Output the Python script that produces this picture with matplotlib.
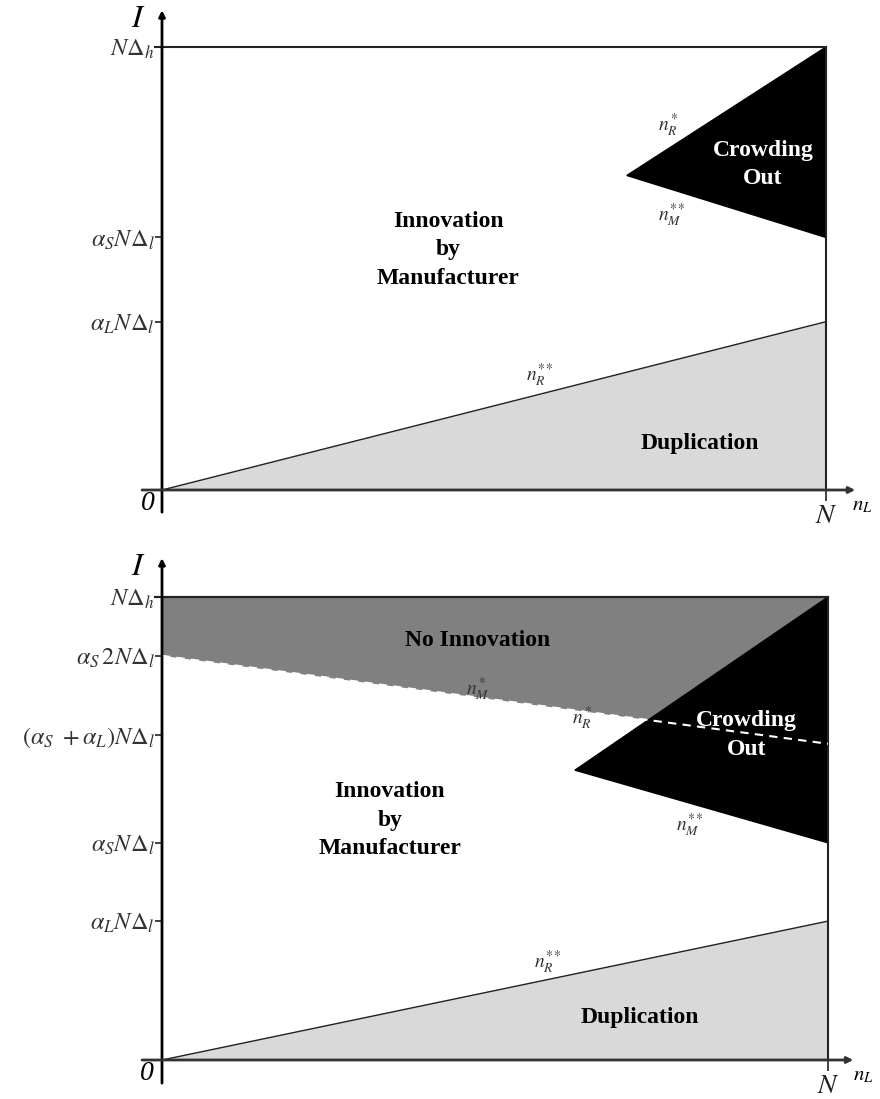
import matplotlib
matplotlib.use("Agg")
import matplotlib.pyplot as plt
import numpy as np

plt.rcParams["mathtext.fontset"] = "stix"
plt.rcParams["font.family"] = ["Liberation Serif", "DejaVu Serif"]

# ------------------------------------------------------------------------------
# data (N = 1, N*Delta_h = 1)
top_ytick_vals = [1.0, 0.57, 0.38]
top_ytick_labels = [r"$N\Delta_h$", r"$\alpha_S N\Delta_l$", r"$\alpha_L N\Delta_l$"]
top_crowd_x = [1.0, 0.70, 1.0]
top_crowd_y = [1.0, 0.71, 0.57]
top_dup_x = [0.0, 1.0, 1.0]
top_dup_y = [0.0, 0.38, 0.0]

bot_ytick_vals = [1.0, 0.873, 0.702, 0.469, 0.30]
bot_ytick_labels = [r"$N\Delta_h$", r"$\alpha_S\,2N\Delta_l$",
                    r"$(\alpha_S\ +\alpha_L)N\Delta_l$",
                    r"$\alpha_S N\Delta_l$", r"$\alpha_L N\Delta_l$"]
bot_crowd_x = [1.0, 0.62, 1.0]
bot_crowd_y = [1.0, 0.626, 0.469]
bot_dup_x = [0.0, 1.0, 1.0]
bot_dup_y = [0.0, 0.30, 0.0]
bot_nm_x = [0.0, 1.0]
bot_nm_y = [0.873, 0.683]

LIGHT = "#d9d9d9"
MID = "#808080"
EDGE = "#222222"

fig = plt.figure(figsize=(8.8, 10.99), dpi=100)
ax1 = fig.add_axes([162 / 880, (1099 - 490) / 1099, 664 / 880, 443 / 1099])
ax2 = fig.add_axes([162 / 880, (1099 - 1060) / 1099, 666 / 880, 463 / 1099])


def setup_axes(ax, yvals, ylabels, ytop, xright, xnl):
    ax.set_xlim(0, 1)
    ax.set_ylim(0, 1)
    for s in ax.spines.values():
        s.set_visible(False)
    ax.set_yticks(yvals, ylabels, fontsize=17.5, color="#333333")
    ax.set_xticks([1.0], [r"$N$"], fontsize=20, color="#222222")
    ax.tick_params(axis="y", direction="out", length=5, width=1.2, pad=0, color=EDGE)
    ax.tick_params(axis="x", direction="out", length=8, width=1.2, pad=2, color=EDGE)
    # axis arrows
    ax.annotate("", xy=(0, ytop), xytext=(0, -0.05), xycoords="data",
                arrowprops=dict(arrowstyle="-|>", lw=2, color="black",
                                mutation_scale=9, shrinkA=0, shrinkB=0),
                annotation_clip=False)
    ax.annotate("", xy=(xright, 0), xytext=(-0.03, 0), xycoords="data",
                arrowprops=dict(arrowstyle="-|>", lw=2, color="#333333",
                                mutation_scale=9, shrinkA=0, shrinkB=0),
                annotation_clip=False)
    ax.text(-0.035, ytop - 0.02, r"$I$", fontsize=23, ha="center", va="center")
    ax.text(-0.022, -0.03, "0", fontsize=20, style="italic", ha="center", va="center")
    ax.text(xnl, -0.035, r"$n_L$", fontsize=15, ha="center", va="center")
    # top line and right edge
    ax.plot([-0.01, 1.0], [1.0, 1.0], color=EDGE, lw=1.5, clip_on=False)
    ax.plot([1.0, 1.0], [0.0, 1.0], color=EDGE, lw=1.5, clip_on=False)


bold = dict(fontsize=17, fontweight="bold", ha="center", va="center", linespacing=1.45)
small = dict(fontsize=14, ha="center", va="center", color="#333333")

# ---------------- top panel
setup_axes(ax1, top_ytick_vals, top_ytick_labels, 1.083, 1.044, 1.055)
ax1.fill(top_dup_x, top_dup_y, facecolor=LIGHT, edgecolor=EDGE, lw=1)
ax1.fill(top_crowd_x, top_crowd_y, facecolor="black", edgecolor="black", lw=1)
ax1.text(0.431, 0.542, "Innovation\nby\nManufacturer", **bold)
ax1.text(0.905, 0.734, "Crowding\nOut", color="white", **bold)
ax1.text(0.81, 0.106, "Duplication", **bold)
ax1.text(0.762, 0.824, r"$n_R^*$", **small)
ax1.text(0.768, 0.62, r"$n_M^{**}$", **small)
ax1.text(0.569, 0.26, r"$n_R^{**}$", **small)

# ---------------- bottom panel
setup_axes(ax2, bot_ytick_vals, bot_ytick_labels, 1.084, 1.038, 1.053)
ax2.fill(bot_dup_x, bot_dup_y, facecolor=LIGHT, edgecolor=EDGE, lw=1)

# intersection of n_M* with the upper edge of crowding-out triangle
m1 = (bot_crowd_y[0] - bot_crowd_y[1]) / (bot_crowd_x[0] - bot_crowd_x[1])
m2 = (bot_nm_y[1] - bot_nm_y[0]) / (bot_nm_x[1] - bot_nm_x[0])
xi = (bot_nm_y[0] - bot_crowd_y[1] + m1 * bot_crowd_x[1]) / (m1 - m2)
yi = bot_nm_y[0] + m2 * xi
ax2.fill([0.0, 1.0, xi, 0.0], [1.0, 1.0, yi, bot_nm_y[0]], facecolor=MID, edgecolor="none")
ax2.fill(bot_crowd_x, bot_crowd_y, facecolor="black", edgecolor="black", lw=1)
ax2.plot(bot_nm_x, bot_nm_y, color="white", lw=1.5, ls=(0, (4, 3)))
ax2.plot([-0.01, 1.0], [1.0, 1.0], color=EDGE, lw=1.5, clip_on=False)

ax2.text(0.474, 0.905, "No Innovation", **bold)
ax2.text(0.474, 0.80, r"$n_M^*$", **small)
ax2.text(0.632, 0.739, r"$n_R^*$", **small)
ax2.text(0.878, 0.702, "Crowding\nOut", color="white", **bold)
ax2.text(0.342, 0.518, "Innovation\nby\nManufacturer", **bold)
ax2.text(0.793, 0.508, r"$n_M^{**}$", **small)
ax2.text(0.58, 0.212, r"$n_R^{**}$", **small)
ax2.text(0.718, 0.091, "Duplication", **bold)

fig.savefig("out.png", dpi=100)
